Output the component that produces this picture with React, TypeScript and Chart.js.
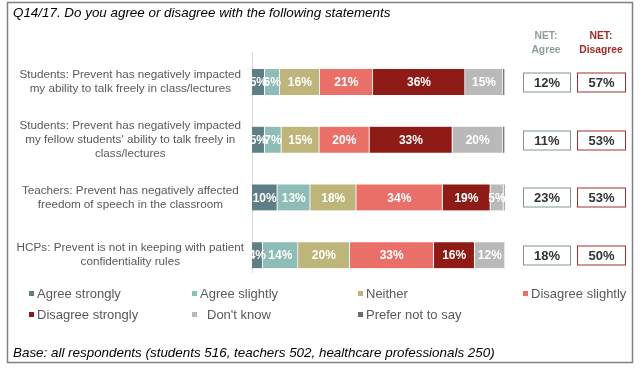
import React, { useEffect, useRef } from 'react';
import { Chart, registerables } from 'chart.js';

Chart.register(...registerables);

const FONT = '"Liberation Sans", Arial, Helvetica, sans-serif';

const categories: string[][] = [
  ['Students: Prevent has negatively impacted', 'my ability to talk freely in class/lectures'],
  ['Students: Prevent has negatively impacted', "my fellow students' ability to talk freely in", 'class/lectures'],
  ['Teachers: Prevent has negatively affected', 'freedom of speech in the classroom'],
  ['HCPs: Prevent is not in keeping with patient', 'confidentiality rules'],
];

const seriesNames = [
  'Agree strongly',
  'Agree slightly',
  'Neither',
  'Disagree slightly',
  'Disagree strongly',
  "Don't know",
  'Prefer not to say',
];

const agreeStrongly = [5, 5, 10, 4.2];
const agreeSlightly = [6, 6.6, 13, 14];
const neither = [15.8, 15, 18.2, 20.4];
const disagreeSlightly = [21, 19.8, 34.1, 33.2];
const disagreeStrongly = [36.4, 32.8, 18.9, 16.2];
const dontKnow = [15, 20, 5.2, 12];
const preferNotToSay = [0.8, 0.8, 0.6, 0];

const netAgree = [12, 11, 23, 18];
const netDisagree = [57, 53, 53, 50];

const seriesColors = ['#5E7F86', '#8DBDB6', '#BDB57A', '#E96F68', '#8E1B16', '#B9B9B9', '#6B6B6B'];

const titleText = 'Q14/17. Do you agree or disagree with the following statements';
const baseText = 'Base: all respondents (students 516, teachers 502, healthcare professionals 250)';

const legendCols = [32, 195, 361, 526];
const legendRows = [294, 315];

const decorPlugin = {
  id: 'decor',
  beforeDatasetsDraw(chart: any) {
    const ctx = chart.ctx;
    const ca = chart.chartArea;
    ctx.save();
    ctx.strokeStyle = '#D9D9D9';
    ctx.lineWidth = 1;
    ctx.beginPath();
    ctx.moveTo(ca.left + 0.5, ca.top - 1);
    ctx.lineTo(ca.left + 0.5, ca.bottom - 11);
    ctx.stroke();
    ctx.restore();
  },
  afterDatasetsDraw(chart: any) {
    const ctx = chart.ctx;
    ctx.save();
    ctx.font = 'bold 12px ' + FONT;
    ctx.fillStyle = '#FFFFFF';
    ctx.textAlign = 'center';
    ctx.textBaseline = 'middle';
    chart.data.datasets.forEach((ds: any, di: number) => {
      if (di === 6) return;
      const meta = chart.getDatasetMeta(di);
      meta.data.forEach((el: any, i: number) => {
        const v = ds.data[i];
        if (!v || v < 1) return;
        const p = el.getProps(['x', 'base', 'y'], true);
        ctx.fillText(Math.round(v) + '%', (p.x + p.base) / 2, p.y + 1);
      });
    });
    ctx.restore();
  },
  afterDraw(chart: any) {
    const ctx = chart.ctx;
    const yScale = chart.scales.y;
    ctx.save();
    // frame
    ctx.strokeStyle = '#808080';
    ctx.lineWidth = 1.5;
    ctx.strokeRect(7.5, 2.5, 625, 360);

    // title & base
    ctx.fillStyle = '#000000';
    ctx.font = 'italic 13.4px ' + FONT;
    ctx.textAlign = 'left';
    ctx.textBaseline = 'alphabetic';
    ctx.fillText(titleText, 13, 17);
    ctx.fillText(baseText, 13, 357);

    // NET headers
    ctx.font = 'bold 10.3px ' + FONT;
    ctx.textAlign = 'center';
    ctx.textBaseline = 'middle';
    ctx.fillStyle = '#8C9C9C';
    ctx.fillText('NET:', 546, 36);
    ctx.fillText('Agree', 546, 50);
    ctx.fillStyle = '#A32A26';
    ctx.fillText('NET:', 601, 36);
    ctx.fillText('Disagree', 601, 50);

    // NET boxes
    ctx.font = 'bold 13px ' + FONT;
    for (let i = 0; i < categories.length; i++) {
      const cy = Math.round(yScale.getPixelForValue(i));
      const h = 19;
      const top = cy - 9.5;
      ctx.fillStyle = '#FFFFFF';
      ctx.fillRect(523, top, 47, h);
      ctx.fillRect(577, top, 48, h);
      ctx.lineWidth = 1;
      ctx.strokeStyle = '#7F9494';
      ctx.strokeRect(523.5, top + 0.5, 47, h);
      ctx.strokeStyle = '#A0302E';
      ctx.strokeRect(577.5, top + 0.5, 48, h);
      ctx.fillStyle = '#333333';
      ctx.fillText(netAgree[i] + '%', 547, cy + 1);
      ctx.fillText(netDisagree[i] + '%', 601.5, cy + 1);
    }

    // legend
    ctx.font = '13px ' + FONT;
    ctx.textAlign = 'left';
    ctx.textBaseline = 'middle';
    seriesNames.forEach((name, idx) => {
      const row = idx < 4 ? 0 : 1;
      const col = idx < 4 ? idx : idx - 4;
      const x = legendCols[col];
      const y = legendRows[row];
      ctx.fillStyle = seriesColors[idx];
      ctx.fillRect(x - 3, y - 3, 5, 5);
      ctx.fillStyle = '#595959';
      const offset = idx === 5 ? 12 : 5;
      ctx.fillText(name, x + offset, y);
    });
    ctx.restore();
  },
};

export default function App() {
  const ref = useRef<HTMLCanvasElement | null>(null);

  useEffect(() => {
    if (!ref.current) return;
    const seriesData = [
      agreeStrongly,
      agreeSlightly,
      neither,
      disagreeSlightly,
      disagreeStrongly,
      dontKnow,
      preferNotToSay,
    ];
    const chart = new Chart(ref.current, {
      type: 'bar',
      data: {
        labels: categories,
        datasets: seriesNames.map((name, i) => ({
          label: name,
          data: seriesData[i],
          backgroundColor: seriesColors[i],
          borderColor: '#FFFFFF',
          borderWidth: { top: 0, left: 0, bottom: 0, right: 1 },
          borderSkipped: false,
          barThickness: 26,
        })),
      },
      options: {
        indexAxis: 'y',
        responsive: false,
        animation: false,
        layout: { padding: { left: 0, right: 139, top: 53, bottom: 87 } },
        plugins: {
          legend: { display: false },
          tooltip: { enabled: false },
          title: { display: false },
        },
        scales: {
          x: {
            stacked: true,
            min: 0,
            max: 100,
            display: false,
          },
          y: {
            stacked: true,
            grid: { display: false, drawTicks: false },
            border: { display: false },
            ticks: {
              crossAlign: 'center',
              padding: 8,
              color: '#595959',
              font: { family: FONT, size: 11.7, lineHeight: 1.2 },
            },
            afterFit: (scale: any) => {
              scale.width = 252;
            },
          },
        },
      },
      plugins: [decorPlugin],
    } as any);
    return () => chart.destroy();
  }, []);

  return (
    <div style={{ position: 'fixed', left: 0, top: 0, width: 644, height: 371, background: '#FFFFFF' }}>
      <canvas ref={ref} width={644} height={371} style={{ display: 'block', width: 644, height: 371 }} />
    </div>
  );
}
